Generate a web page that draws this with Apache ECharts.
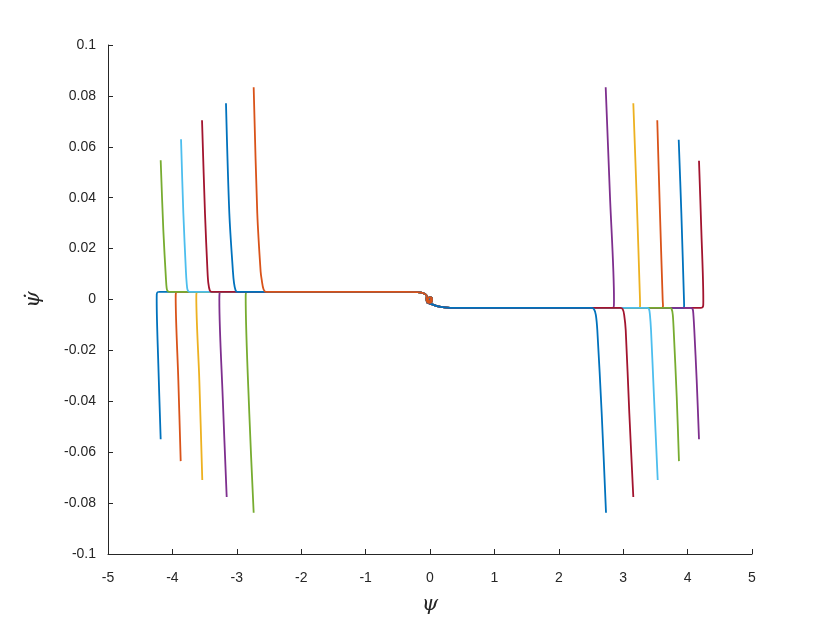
<!DOCTYPE html>
<html>
<head>
<meta charset="utf-8">
<script src="https://cdn.jsdelivr.net/npm/echarts@6/dist/echarts.min.js"></script>
<style>html,body{margin:0;padding:0;background:#fff;}#c{width:830px;height:623px;}</style>
</head>
<body>
<div id="c"></div>
<script>
// ---- tick labels ----
const xTickLabels = ['-5','-4','-3','-2','-1','0','1','2','3','4','5'];
const yTickLabels = ['-0.1','-0.08','-0.06','-0.04','-0.02','0','0.02','0.04','0.06','0.08','0.1'];

// ---- trajectories: [psi, psidot] ----
// left, starting with negative psidot (drawn first)
const lbBlue   = [[-4.182,-0.0549],[-4.219,-0.0251],[-4.244,-0.0002],[-4.243,0.0020],[-4.230,0.0029],[-4.200,0.0030]];
const lbOrange = [[-3.871,-0.0635],[-3.908,-0.0316],[-3.949,0.0011],[-3.945,0.0026],[-3.930,0.0030]];
const lbYellow = [[-3.536,-0.0709],[-3.582,-0.0316],[-3.629,0.0011],[-3.625,0.0026],[-3.610,0.0030]];
const lbPurple = [[-3.157,-0.0776],[-3.219,-0.0382],[-3.271,-0.0002],[-3.268,0.0024],[-3.250,0.0030]];
const lbGreen  = [[-2.738,-0.0838],[-2.806,-0.0447],[-2.862,0.0011],[-2.858,0.0026],[-2.840,0.0030]];
// right, starting with positive psidot
const rtDred   = [[4.177,0.0545],[4.213,0.0273],[4.244,-0.0002],[4.243,-0.0022],[4.230,-0.0031],[4.200,-0.0033]];
const rtBlue   = [[3.862,0.0628],[3.903,0.0339],[3.944,-0.0002],[3.946,-0.0025],[3.930,-0.0033]];
const rtOrange = [[3.529,0.0704],[3.571,0.0339],[3.613,-0.0002],[3.618,-0.0025],[3.600,-0.0033]];
const rtYellow = [[3.157,0.0771],[3.209,0.0404],[3.261,-0.0002],[3.262,-0.0025],[3.245,-0.0033]];
const rtPurple = [[2.728,0.0834],[2.795,0.0404],[2.857,-0.0002],[2.855,-0.0025],[2.840,-0.0033]];
// right, starting with negative psidot
const rbPurple = [[4.177,-0.0549],[4.141,-0.0316],[4.104,-0.0120],[4.090,-0.0060],[4.079,-0.0038],[4.050,-0.0033]];
const rbGreen  = [[3.866,-0.0635],[3.831,-0.0382],[3.784,-0.0120],[3.770,-0.0060],[3.753,-0.0038],[3.725,-0.0033]];
const rbLblue  = [[3.536,-0.0709],[3.478,-0.0382],[3.432,-0.0120],[3.415,-0.0060],[3.401,-0.0038],[3.370,-0.0033]];
const rbDred   = [[3.157,-0.0776],[3.095,-0.0447],[3.039,-0.0120],[3.015,-0.0060],[2.992,-0.0038],[2.955,-0.0033]];
const rbBlue   = [[2.733,-0.0838],[2.666,-0.0447],[2.598,-0.0120],[2.575,-0.0060],[2.547,-0.0038],[2.510,-0.0033]];
// left, starting with positive psidot
const ltGreen  = [[-4.182,0.0547],[-4.141,0.0273],[-4.100,0.0080],[-4.089,0.0045],[-4.075,0.0033],[-4.048,0.0030]];
const ltLblue  = [[-3.866,0.0630],[-3.830,0.0339],[-3.790,0.0110],[-3.778,0.0064],[-3.765,0.0038],[-3.737,0.0030]];
const ltDred   = [[-3.540,0.0704],[-3.494,0.0339],[-3.455,0.0110],[-3.442,0.0064],[-3.420,0.0036],[-3.390,0.0030]];
const ltBlue   = [[-3.168,0.0771],[-3.116,0.0339],[-3.060,0.0110],[-3.043,0.0064],[-3.020,0.0037],[-2.992,0.0030]];
const ltOrange = [[-2.738,0.0834],[-2.682,0.0339],[-2.630,0.0110],[-2.613,0.0077],[-2.585,0.0040],[-2.547,0.0030]];
// common approach to the origin
const leftTail  = [[-0.39,0.0030],[-0.20,0.0029],[-0.12,0.0026],[-0.07,0.0020],[-0.05,0.0012],[-0.055,0.0002],[-0.04,-0.0010],[-0.005,-0.0013],[0.03,-0.0006],[0.03,0.0004],[0.0,0.0009],[-0.03,0.0004],[-0.03,-0.0004],[0.0,-0.0006],[0.015,0.0],[0.0,0.0002]];
const rightTail = [[0.39,-0.0033],[0.23,-0.0031],[0.11,-0.0026],[0.02,-0.0018],[-0.05,-0.0010],[-0.04,-0.0003],[0.0,0.0]];

const C = {blue:'#0072BD', orange:'#D95319', yellow:'#EDB120', purple:'#7E2F8E', green:'#77AC30', lblue:'#4DBEEE', dred:'#A2142F'};

const traj = [
  [lbBlue,C.blue,leftTail],[lbOrange,C.orange,leftTail],[lbYellow,C.yellow,leftTail],[lbPurple,C.purple,leftTail],[lbGreen,C.green,leftTail],
  [rtDred,C.dred,rightTail],[rtBlue,C.blue,rightTail],[rtOrange,C.orange,rightTail],[rtYellow,C.yellow,rightTail],[rtPurple,C.purple,rightTail],
  [rbPurple,C.purple,rightTail],[rbGreen,C.green,rightTail],[rbLblue,C.lblue,rightTail],[rbDred,C.dred,rightTail],[rbBlue,C.blue,rightTail],
  [ltGreen,C.green,leftTail],[ltLblue,C.lblue,leftTail],[ltDred,C.dred,leftTail],[ltBlue,C.blue,leftTail],[ltOrange,C.orange,leftTail]
];

const series = traj.map(([pts,col,tail]) => ({
  type:'line', data: pts.concat(tail), showSymbol:false, symbol:'none', smooth:0.3,
  lineStyle:{color:col, width:1.8}, itemStyle:{color:col}, silent:true
}));

const axisCol = '#262626';
const chart = echarts.init(document.getElementById('c'), null, {renderer:'canvas'});
chart.setOption({
  animation:false,
  backgroundColor:'#fff',
  grid:{left:108, right:78, top:45, bottom:69, containLabel:false},
  xAxis:{
    type:'value', min:-5, max:5, interval:1,
    name:'\u03C8', nameLocation:'middle', nameGap:40,
    nameTextStyle:{fontFamily:'DejaVu Serif', fontStyle:'italic', fontSize:21, color:axisCol},
    axisLine:{show:true, onZero:false, lineStyle:{color:axisCol, width:1}},
    axisTick:{show:true, inside:true, length:5, lineStyle:{color:axisCol}},
    axisLabel:{margin:17, fontFamily:'Liberation Sans', fontSize:14, color:axisCol,
      formatter:(v)=>xTickLabels[Math.round(v+5)]},
    splitLine:{show:false}
  },
  yAxis:{
    type:'value', min:-0.1, max:0.1, interval:0.02,
    name:'\u03C8\u0307', nameLocation:'middle', nameGap:64, nameRotate:90,
    nameTextStyle:{fontFamily:'DejaVu Serif', fontStyle:'italic', fontSize:21, color:axisCol},
    axisLine:{show:true, onZero:false, lineStyle:{color:axisCol, width:1}},
    axisTick:{show:true, inside:true, length:5, lineStyle:{color:axisCol}},
    axisLabel:{margin:12, fontFamily:'Liberation Sans', fontSize:14, color:axisCol,
      formatter:(v)=>yTickLabels[Math.round((v+0.1)/0.02)]},
    splitLine:{show:false}
  },
  series: series
});
</script>
</body>
</html>
